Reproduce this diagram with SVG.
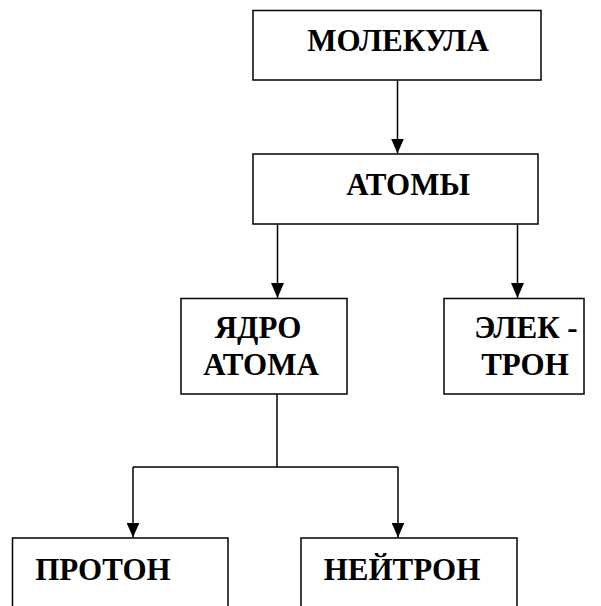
<svg xmlns="http://www.w3.org/2000/svg" width="601" height="606" viewBox="0 0 601 606">
<defs>
<marker id="arr" markerUnits="userSpaceOnUse" markerWidth="15" markerHeight="13" refX="15" refY="6.5" orient="auto">
<path d="M0,0 L15,6.5 L0,13 Z" fill="#000"/>
</marker>
<style>
.box{fill:#fff;stroke:#000;stroke-width:1.5}
.c{fill:none;stroke:#000;stroke-width:1.5}
</style>
</defs>
<rect width="601" height="606" fill="#fff"/>
<g id="connectors">
<path class="c" d="M397.5,80 V153.5" marker-end="url(#arr)"/>
<path class="c" d="M277.5,224 V298" marker-end="url(#arr)"/>
<path class="c" d="M517.5,224 V298" marker-end="url(#arr)"/>
<path class="c" d="M277,394 V467"/>
<path class="c" d="M133,467 H398"/>
<path class="c" d="M133,467 V537.5" marker-end="url(#arr)"/>
<path class="c" d="M398,467 V537.5" marker-end="url(#arr)"/>
</g>
<g font-family="Liberation Serif, serif" font-weight="bold" font-size="31" fill="#000" text-anchor="middle">
<g id="molecule">
<rect class="box" x="253" y="10.5" width="288" height="69.5"/>
<text x="398" y="51">МОЛЕКУЛА</text>
</g>
<g id="atoms">
<rect class="box" x="253" y="154" width="285" height="70"/>
<text x="408" y="195">АТОМЫ</text>
</g>
<g id="nucleus">
<rect class="box" x="181" y="298.5" width="166" height="95.5"/>
<text x="258" y="338">ЯДРО</text>
<text x="261" y="375">АТОМА</text>
</g>
<g id="electron">
<rect class="box" x="444" y="298.5" width="140" height="95.5"/>
<text x="526" y="338">ЭЛЕК -</text>
<text x="525" y="375">ТРОН</text>
</g>
<g id="proton">
<rect class="box" x="12.5" y="538" width="215.5" height="80"/>
<text x="103" y="580">ПРОТОН</text>
</g>
<g id="neutron">
<rect class="box" x="301" y="538" width="216" height="80"/>
<text x="402" y="580">НЕЙТРОН</text>
</g>
</g>
</svg>
